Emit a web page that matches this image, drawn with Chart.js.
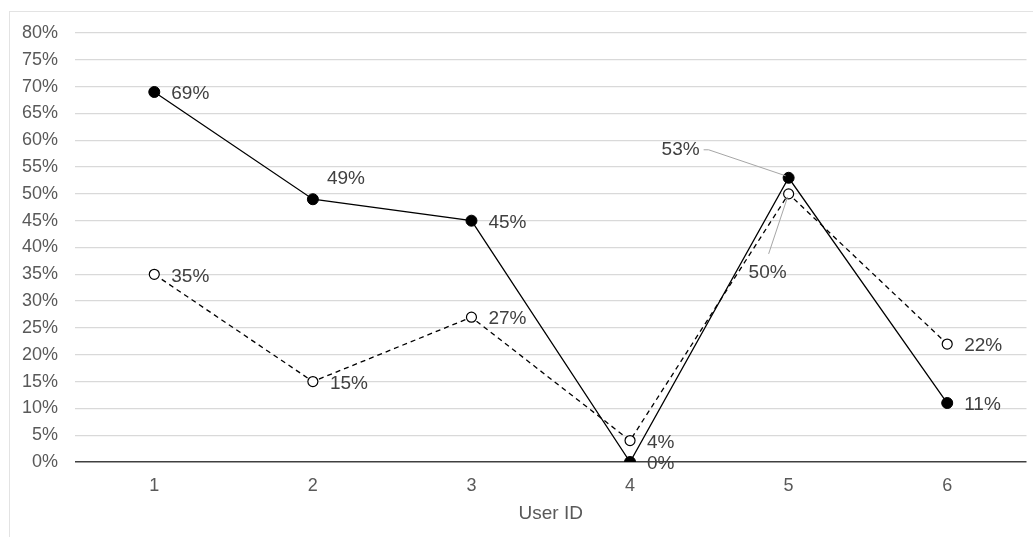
<!DOCTYPE html>
<html>
<head>
<meta charset="utf-8">
<script src="https://cdn.jsdelivr.net/npm/chart.js@4/dist/chart.umd.min.js"></script>
<style>
  html, body { margin: 0; padding: 0; background: #fff; }
  #wrap { width: 1033px; height: 537px; position: relative; }
</style>
</head>
<body>
<div id="wrap"><canvas id="grafico"></canvas></div>
<script>
// Valores do gráfico
var userIds = ['1', '2', '3', '4', '5', '6'];
var serieA = [69, 49, 45, 0, 53, 11];   // linha contínua, marcador cheio
var serieB = [35, 15, 27, 4, 50, 22];   // linha tracejada, marcador vazio
var ticksY = [0, 5, 10, 15, 20, 25, 30, 35, 40, 45, 50, 55, 60, 65, 70, 75, 80];

// Posição dos rótulos de cada ponto
var posA = ['right', 'aboveRight', 'right', 'right', 'leaderLeft', 'right'];
var posB = ['right', 'right', 'right', 'right', 'leaderBelow', 'right'];

var fonte = '"Liberation Sans", Arial, sans-serif';

// Moldura externa do gráfico
var molduraPlugin = {
    id: 'moldura',
    beforeDraw: function (chart) {
        var ctx = chart.ctx;
        ctx.save();
        ctx.fillStyle = '#fff';
        ctx.fillRect(0, 0, chart.width, chart.height);
        ctx.strokeStyle = '#e3e3e3';
        ctx.lineWidth = 1;
        ctx.strokeRect(9.5, 11.5, chart.width + 10, chart.height + 10);
        ctx.restore();
    }
};

// Rótulos de valor ao lado de cada ponto
var rotulosPlugin = {
    id: 'rotulos',
    afterDatasetsDraw: function (chart) {
        var ctx = chart.ctx;
        ctx.save();
        ctx.font = '19px ' + fonte;
        ctx.fillStyle = '#404040';
        ctx.textBaseline = 'middle';
        chart.data.datasets.forEach(function (ds, i) {
            var meta = chart.getDatasetMeta(i);
            var pos = i === 0 ? posA : posB;
            meta.data.forEach(function (pt, j) {
                var txt = ds.data[j] + '%';
                var x = pt.x, y = pt.y;
                ctx.textAlign = 'left';
                if (pos[j] === 'right') {
                    ctx.fillText(txt, x + 17, y + 2);
                } else if (pos[j] === 'aboveRight') {
                    ctx.fillText(txt, x + 14, y - 20);
                } else if (pos[j] === 'leaderLeft') {
                    ctx.strokeStyle = '#a6a6a6';
                    ctx.lineWidth = 1;
                    ctx.beginPath();
                    ctx.moveTo(x - 3, y - 2);
                    ctx.lineTo(x - 80, y - 28);
                    ctx.lineTo(x - 85, y - 28);
                    ctx.stroke();
                    ctx.textAlign = 'right';
                    ctx.fillText(txt, x - 89, y - 28);
                } else if (pos[j] === 'leaderBelow') {
                    ctx.strokeStyle = '#a6a6a6';
                    ctx.lineWidth = 1;
                    ctx.beginPath();
                    ctx.moveTo(x - 1, y + 3);
                    ctx.lineTo(x - 20, y + 60);
                    ctx.stroke();
                    ctx.textAlign = 'center';
                    ctx.fillText(txt, x - 21, y + 79);
                }
            });
        });
        ctx.restore();
    }
};

var ctx = document.getElementById('grafico').getContext('2d');
var grafico = new Chart(ctx, {
    type: 'line',
    data: {
        labels: userIds,
        datasets: [{
            label: 'A',
            data: serieA,
            borderColor: '#000',
            borderWidth: 1.3,
            backgroundColor: '#000',
            pointBackgroundColor: '#000',
            pointBorderColor: '#000',
            pointRadius: 5.5,
            pointBorderWidth: 1,
            tension: 0
        }, {
            label: 'B',
            data: serieB,
            borderColor: '#000',
            borderWidth: 1.3,
            borderDash: [5, 4],
            pointBackgroundColor: '#fff',
            pointBorderColor: '#000',
            pointRadius: 5,
            pointBorderWidth: 1.2,
            tension: 0
        }]
    },
    options: {
        responsive: true,
        maintainAspectRatio: false,
        animation: false,
        events: [],
        layout: { padding: { left: 0, top: 33, right: 5, bottom: 0 } },
        plugins: {
            legend: { display: false },
            tooltip: { enabled: false }
        },
        scales: {
            x: {
                offset: true,
                grid: { display: false, drawTicks: false },
                border: { display: false },
                ticks: { color: '#595959', font: { family: fonte, size: 18 }, padding: 13 },
                title: { display: true, text: 'User ID', color: '#595959', font: { family: fonte, size: 19 }, padding: { top: 8, bottom: 12 } },
                afterFit: function (scale) { scale.height = 75; }
            },
            y: {
                min: 0,
                max: 80,
                afterBuildTicks: function (scale) {
                    scale.ticks = ticksY.map(function (v) { return { value: v }; });
                },
                grid: {
                    color: function (c) { return c.tick.value === 0 ? '#404040' : '#d9d9d9'; },
                    lineWidth: function (c) { return c.tick.value === 0 ? 1.5 : 1.3; },
                    drawTicks: false
                },
                border: { display: false },
                ticks: {
                    color: '#595959',
                    font: { family: fonte, size: 18 },
                    padding: 17,
                    callback: function (v) { return v + '%'; }
                },
                afterFit: function (scale) { scale.width = 75; }
            }
        }
    },
    plugins: [molduraPlugin, rotulosPlugin]
});
</script>
</body>
</html>
